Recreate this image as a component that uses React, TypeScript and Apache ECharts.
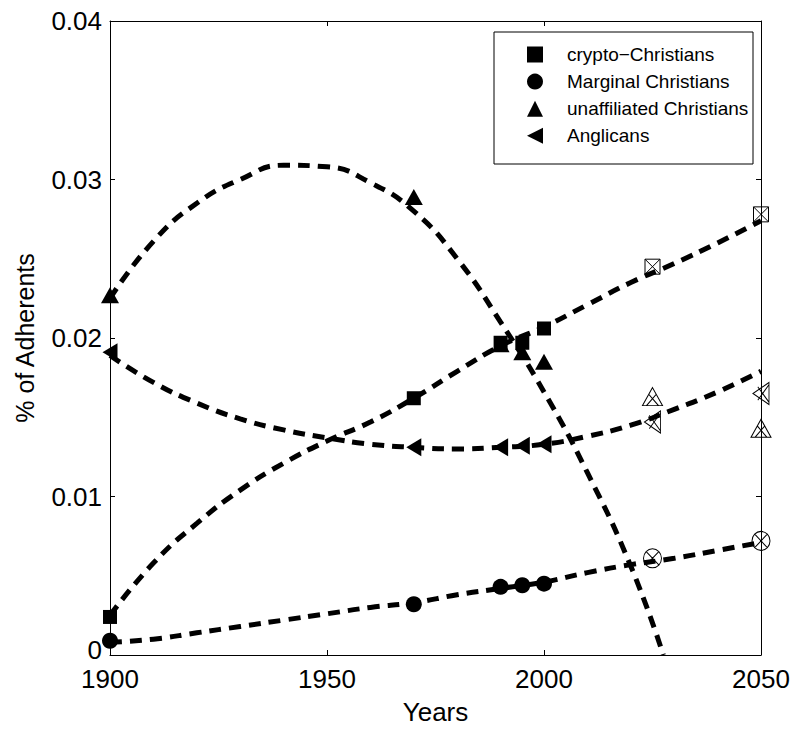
import React, { useEffect, useRef } from "react";
import * as echarts from "echarts";

const obsYears = [1900, 1970, 1990, 1995, 2000];
const projYears = [2025, 2050];

const cryptoObs = [0.0024, 0.0162, 0.0197, 0.0197, 0.0206];
const cryptoProj = [0.0245, 0.0278];
const marginalObs = [0.0009, 0.0032, 0.0043, 0.0044, 0.0045];
const marginalProj = [0.0061, 0.0072];
const unaffObs = [0.0227, 0.0289, 0.0196, 0.0191, 0.0185];
const unaffProj = [0.0163, 0.0143];
const anglObs = [0.0191, 0.0131, 0.0131, 0.0132, 0.0133];
const anglProj = [0.0147, 0.0165];

const fitYears = [1900, 1910, 1920, 1930, 1940, 1950, 1960, 1970, 1980, 1990, 2000, 2010, 2020, 2030, 2040, 2050];
const cryptoFit = [0.0025, 0.0058, 0.0083, 0.0104, 0.0121, 0.0135, 0.0147, 0.0162, 0.0179, 0.0195, 0.0207, 0.0221, 0.0235, 0.0247, 0.026, 0.0274];
const marginalFit = [0.0008, 0.001, 0.0014, 0.0018, 0.0022, 0.0026, 0.003, 0.0033, 0.0038, 0.0042, 0.0046, 0.0052, 0.0057, 0.0061, 0.0066, 0.0071];
const anglFit = [0.0189, 0.0172, 0.0159, 0.0149, 0.0142, 0.0137, 0.0133, 0.0131, 0.013, 0.0131, 0.0133, 0.0138, 0.0145, 0.0155, 0.0166, 0.0179];
const unaffFitYears = [1900, 1910, 1920, 1930, 1940, 1950, 1960, 1970, 1980, 1990, 2000, 2010, 2020, 2027.5];
const unaffFit = [0.0225, 0.0261, 0.0285, 0.03, 0.0309, 0.0308, 0.0298, 0.028, 0.025, 0.021, 0.0166, 0.0115, 0.0056, 0];

const legendNames = ["crypto\u2212Christians", "Marginal Christians", "unaffiliated Christians", "Anglicans"];
const yTicks = [0, 0.01, 0.02, 0.03, 0.04];

const FONT = "Liberation Sans, Arial, sans-serif";

const pair = (xs: number[], ys: number[]) => xs.map((x, i) => [x, ys[i]]);

const SQX = "path://M0,0 L10,0 L10,10 L0,10 Z M0,0 L10,10 M10,0 L0,10";
const CIX = "path://M10,5 A5,5 0 1,1 0,5 A5,5 0 1,1 10,5 Z M1.5,1.5 L8.5,8.5 M8.5,1.5 L1.5,8.5";
const TRX = "path://M5,0 L10,10 L0,10 Z M3,3.5 L8,10 M7,3.5 L2,10";
const LTX = "path://M0,5 L10,0 L10,10 Z M3,2 L10,9 M10,1 L3,8";
const LEFT_TRI = "path://M0,5 L10,0 L10,10 Z";

export default function App() {
  const ref = useRef<HTMLDivElement>(null);
  useEffect(() => {
    if (!ref.current) return;
    const chart = echarts.init(ref.current, null, { renderer: "svg" });
    const dash = { color: "#000", width: 5, type: [12, 8] as number[], cap: "butt" as const };
    const fitLine = (data: number[][]) => ({
      type: "line",
      data,
      showSymbol: false,
      symbol: "none",
      smooth: 0.5,
      lineStyle: dash,
      silent: true,
      z: 3,
    });
    const obs = (name: string, data: number[][], symbol: string, size: any) => ({
      type: "scatter",
      name,
      data,
      symbol,
      symbolSize: size,
      itemStyle: { color: "#000", opacity: 1 },
      clip: false,
      z: 2,
    });
    const proj = (data: number[][], symbol: string, size: any) => ({
      type: "scatter",
      data,
      symbol,
      symbolSize: size,
      itemStyle: { color: "rgba(0,0,0,0)", borderColor: "#000", borderWidth: 1, opacity: 1 },
      clip: false,
      z: 2,
    });
    const axisCommon = {
      axisLine: { show: true, onZero: false, lineStyle: { color: "#000", width: 1 } },
      axisTick: { show: true, inside: true, length: 5, lineStyle: { color: "#000" } },
      splitLine: { show: false },
    };
    chart.setOption({
      animation: false,
      backgroundColor: "#fff",
      grid: { left: 110, top: 21, right: 32, bottom: 78, containLabel: false, outerBoundsMode: "none" },
      legend: {
        data: [
          { name: legendNames[0], icon: "rect" },
          { name: legendNames[1], icon: "circle" },
          { name: legendNames[2], icon: "triangle" },
          { name: legendNames[3], icon: LEFT_TRI },
        ],
        orient: "vertical",
        left: 527,
        top: 45,
        padding: 0,
        itemWidth: 16,
        itemHeight: 16,
        itemGap: 8.1,
        selectedMode: false,
        textStyle: { fontFamily: FONT, fontSize: 19, color: "#000", padding: [0, 0, 0, 19] },
      },
      graphic: [
        {
          type: "rect",
          shape: { x: 494, y: 32, width: 259, height: 132 },
          style: { fill: "none", stroke: "#000", lineWidth: 1 },
          z: 0,
        },
      ],
      xAxis: [
        {
          type: "value",
          min: 1900,
          max: 2050,
          interval: 50,
          position: "bottom",
          name: "Years",
          nameLocation: "middle",
          nameGap: 44,
          nameTextStyle: { fontFamily: FONT, fontSize: 26, color: "#000" },
          axisLabel: { fontFamily: FONT, fontSize: 26, color: "#000", margin: 11, formatter: (v: number) => String(Math.round(v)) },
          ...axisCommon,
        },
        {
          type: "value",
          min: 1900,
          max: 2050,
          interval: 50,
          position: "top",
          axisLabel: { show: false },
          ...axisCommon,
        },
      ],
      yAxis: [
        {
          type: "value",
          min: 0,
          max: 0.04,
          interval: 0.01,
          position: "left",
          name: "% of Adherents",
          nameLocation: "middle",
          nameGap: 73,
          nameTextStyle: { fontFamily: FONT, fontSize: 25, color: "#000" },
          axisLabel: {
            fontFamily: FONT,
            fontSize: 26,
            color: "#000",
            margin: 8,
            formatter: (v: number) => {
              const t = yTicks.find((k) => Math.abs(k - v) < 1e-9);
              return t === 0 ? "{z|0}" : (t ?? v).toFixed(2);
            },
            rich: { z: { fontFamily: FONT, fontSize: 26, color: "#000", padding: [0, 0, 10, 0] } },
          },
          ...axisCommon,
        },
        {
          type: "value",
          min: 0,
          max: 0.04,
          interval: 0.01,
          position: "right",
          axisLabel: { show: false },
          ...axisCommon,
        },
      ],
      series: [
        fitLine(pair(fitYears, cryptoFit)),
        fitLine(pair(fitYears, marginalFit)),
        fitLine(pair(unaffFitYears, unaffFit)),
        fitLine(pair(fitYears, anglFit)),
        obs(legendNames[0], pair(obsYears, cryptoObs), "rect", 14),
        obs(legendNames[1], pair(obsYears, marginalObs), "circle", 16),
        obs(legendNames[2], pair(obsYears, unaffObs), "triangle", [18, 16]),
        obs(legendNames[3], pair(obsYears, anglObs), LEFT_TRI, [15, 18]),
        proj(pair(projYears, cryptoProj), SQX, 15),
        proj(pair(projYears, marginalProj), CIX, [18, 19]),
        proj(pair(projYears, unaffProj), TRX, [20, 18]),
        proj(pair(projYears, anglProj), LTX, [16, 22]),
      ],
    });
    return () => chart.dispose();
  }, []);
  return (
    <div
      ref={ref}
      style={{ position: "absolute", left: 0, top: 0, width: 793, height: 733 }}
    />
  );
}
